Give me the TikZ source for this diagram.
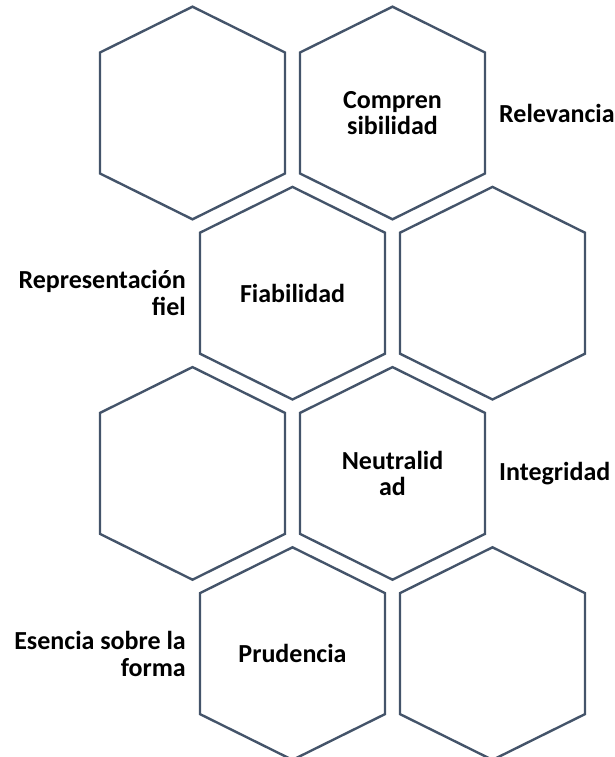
\documentclass[tikz,border=0pt]{standalone}
\usepackage{fontspec}
\setmainfont{Carlito}
\definecolor{hexcol}{HTML}{44546A}
\begin{document}
\begin{tikzpicture}[x=1pt,y=-1pt,
  hexline/.style={draw=hexcol,line width=2.4pt,line join=miter},
  hexa/.pic={\path[hexline] (0,-106.3) -- (92.5,-60.5) -- (92.5,60.5) -- (0,106.3) -- (-92.5,60.5) -- (-92.5,-60.5) -- cycle;},
  lbl/.style={font=\bfseries\fontsize{26}{26.8}\selectfont,text=black,inner sep=0pt,align=center},
  sidel/.style={lbl,anchor=west,align=left},
  sider/.style={lbl,anchor=east,align=right}]
\useasboundingbox (0,0) rectangle (615,757);
\clip (0,0) rectangle (615,757);
% hexagon centres
\coordinate (h1) at (192.5,113);
\coordinate (h2) at (392.5,113);
\coordinate (h3) at (292.5,293.2);
\coordinate (h4) at (492.5,293.2);
\coordinate (h5) at (192.5,473.4);
\coordinate (h6) at (392.5,473.4);
\coordinate (h7) at (292.5,653.6);
\coordinate (h8) at (492.5,653.6);
\foreach \h in {h1,h2,h3,h4,h5,h6,h7,h8} {\pic at (\h) {hexa};}
% labels
\node[lbl] (comp) at (h2) {Compren\\sibilidad};
\node[sidel] (rel) at (499,113) {Relevancia};
\node[lbl] (fiab) at (h3) {Fiabilidad};
\node[sider] (repr) at (186,293.2) {Representación\\fiel};
\node[lbl] (neut) at (h6) {Neutralid\\ad};
\node[sidel] (integ) at (499,473.4) {Integridad};
\node[lbl] (prud) at (h7) {Prudencia};
\node[sider] (esen) at (186,653.6) {Esencia sobre la\\forma};
\end{tikzpicture}
\end{document}
